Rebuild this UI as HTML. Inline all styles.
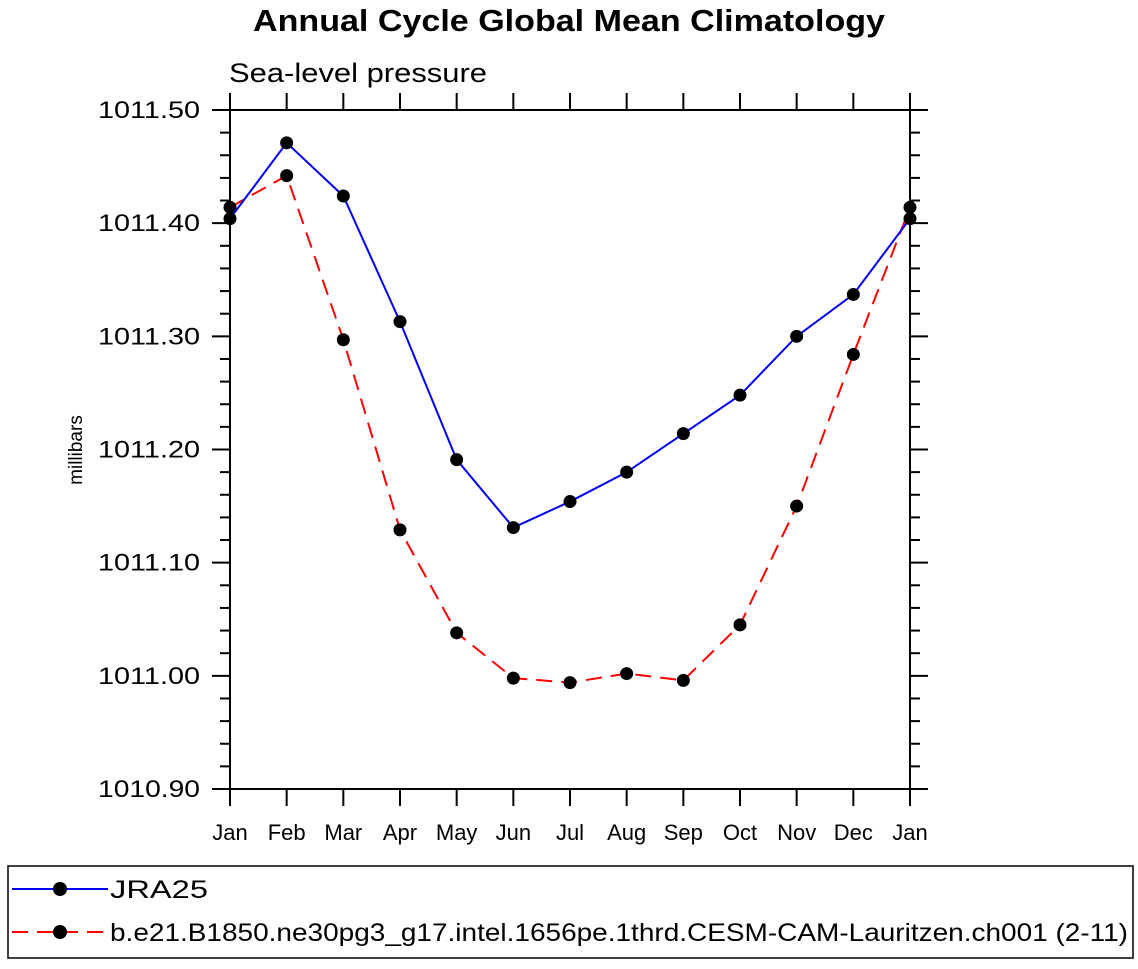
<!DOCTYPE html>
<html><head><meta charset="utf-8"><style>
body{margin:0;background:#fff;font-family:"Liberation Sans",Arial,sans-serif}
svg text{font-family:"Liberation Sans",Arial,sans-serif}
</style></head><body>
<svg id="chart" width="1138" height="964" viewBox="0 0 1138 964">
<text x="253" y="31" font-size="31" font-weight="bold" textLength="632" lengthAdjust="spacingAndGlyphs">Annual Cycle Global Mean Climatology</text>
<text x="229" y="82" font-size="27" textLength="258" lengthAdjust="spacingAndGlyphs">Sea-level pressure</text>
<text transform="translate(82,450) rotate(-90)" text-anchor="middle" font-size="19">millibars</text>
<g id="axes"></g>
<g id="series"></g>
<rect x="8" y="866" width="1125" height="92" fill="none" stroke="#000" stroke-width="1.5"/>
<line x1="12" y1="889" x2="108" y2="889" stroke="#00f" stroke-width="2"/>
<circle cx="60" cy="889" r="7" fill="#000"/>
<text x="110" y="898" font-size="25" textLength="98" lengthAdjust="spacingAndGlyphs">JRA25</text>
<line x1="12" y1="932" x2="108" y2="932" stroke="#f00" stroke-width="2" stroke-dasharray="16,9"/>
<circle cx="60" cy="932" r="7" fill="#000"/>
<text x="110" y="941" font-size="25" textLength="1018" lengthAdjust="spacingAndGlyphs">b.e21.B1850.ne30pg3_g17.intel.1656pe.1thrd.CESM-CAM-Lauritzen.ch001 (2-11)</text>
</svg>
<script>
const months = ["Jan","Feb","Mar","Apr","May","Jun","Jul","Aug","Sep","Oct","Nov","Dec","Jan"];
const jra25 = [1011.404,1011.471,1011.424,1011.313,1011.191,1011.131,1011.154,1011.180,1011.214,1011.248,1011.300,1011.337,1011.404];
const cesm = [1011.414,1011.442,1011.297,1011.129,1011.038,1010.998,1010.994,1011.002,1010.996,1011.045,1011.150,1011.284,1011.414];
const yTicks = [1010.90,1011.00,1011.10,1011.20,1011.30,1011.40,1011.50];
const yTickLabels = ["1010.90","1011.00","1011.10","1011.20","1011.30","1011.40","1011.50"];
const X0=230,X1=910,Y0=789,Y1=110,VMIN=1010.9,VMAX=1011.5;
const NS="http://www.w3.org/2000/svg";
function xs(i){return X0+(X1-X0)*i/(months.length-1);}
function ys(v){return Y0-(v-VMIN)/(VMAX-VMIN)*(Y0-Y1);}
function mk(tag,attrs,parent){const e=document.createElementNS(NS,tag);for(const k in attrs)e.setAttribute(k,attrs[k]);parent.appendChild(e);return e;}
const axes=document.getElementById('axes');
let fr=mk('rect',{x:X0,y:Y1,width:X1-X0,height:Y0-Y1,fill:'none',stroke:'#000','stroke-width':2},axes);


months.forEach((m,i)=>{
  const x=xs(i);
  let t=mk('line',{x1:x,y1:Y0,x2:x,y2:Y0+17,stroke:'#000','stroke-width':2},axes);
  
  
  let t2=mk('line',{x1:x,y1:Y1,x2:x,y2:Y1-17,stroke:'#000','stroke-width':2},axes);
  
  
  let l=mk('text',{x:x,y:840,'text-anchor':'middle','font-size':22},axes);
  l.textContent=m;
  
  
});
for(let k=0;k<=30;k++){
  const v=VMIN+k*0.02,y=ys(v),major=k%5===0;
  [[X0,X0-(major?18:10)],[X1,X1+(major?18:10)]].forEach(p=>{
    let t=mk('line',{x1:p[0],y1:y,x2:p[1],y2:y,stroke:'#000','stroke-width':2},axes);
    
    
  });
}
yTicks.forEach((v,i)=>{
  let l=mk('text',{x:98,y:ys(v)+8,'font-size':24,textLength:102,lengthAdjust:'spacingAndGlyphs'},axes);
  l.textContent=yTickLabels[i];
  
  
});
const sg=document.getElementById('series');
function draw(data,color,dash,name){
  let p=mk('polyline',{points:data.map((v,i)=>xs(i)+','+ys(v)).join(' '),fill:'none',stroke:color,'stroke-width':2},sg);
  if(dash)p.setAttribute('stroke-dasharray',dash);
  
  
  data.forEach((v,i)=>{
    let c=mk('circle',{cx:xs(i),cy:ys(v),r:6.5,fill:'#000'},sg);
    
    
  });
}
draw(cesm,'#f00','16,9','cesm');
draw(jra25,'#00f',null,'jra25');
</script>
</body></html>
